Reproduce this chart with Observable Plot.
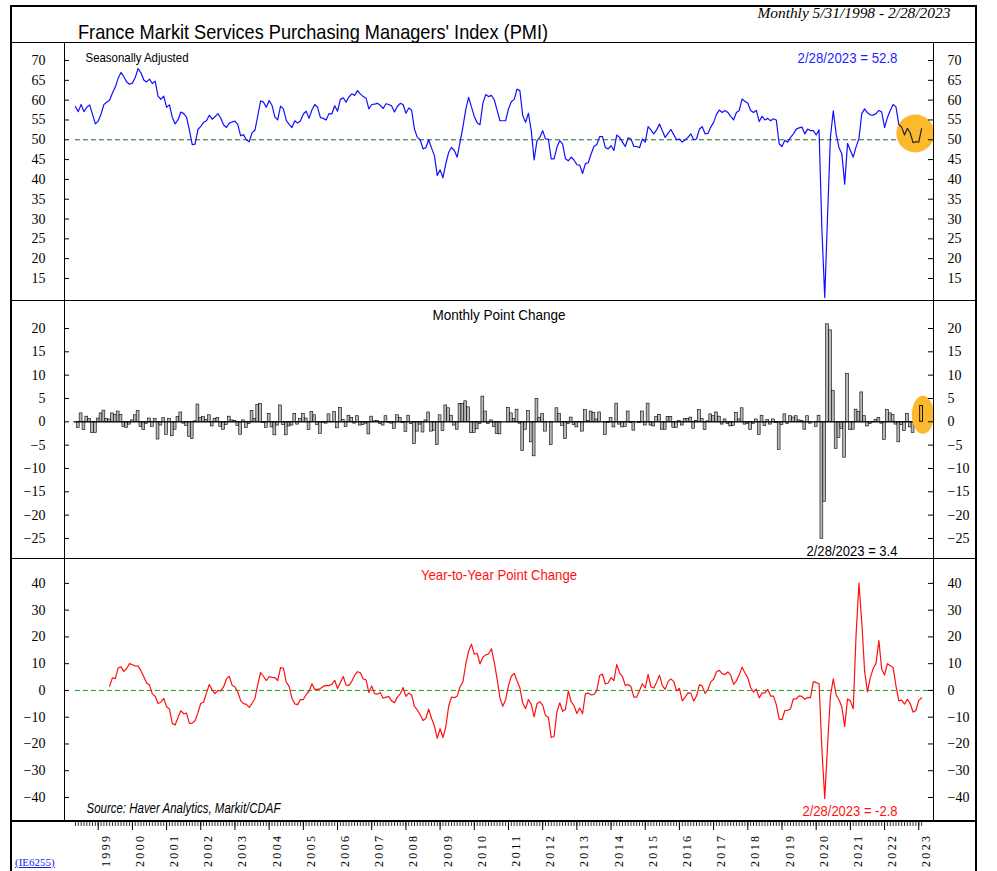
<!DOCTYPE html>
<html><head><meta charset="utf-8">
<script src="https://cdn.jsdelivr.net/npm/d3@7"></script>
<script src="https://cdn.jsdelivr.net/npm/@observablehq/plot@0.6"></script>
<style>
body{margin:0;background:#fff;}
#wrap{position:relative;width:997px;height:871px;overflow:hidden;font-family:"Liberation Sans Narrow","Liberation Sans",sans-serif;}
.hl{position:absolute;background:#000;}
.xaxis text{letter-spacing:2.4px;}
</style></head><body><div id="wrap"></div>
<script>
// ---- data ----
const startYear = 1998, startMonth = 5;   // first observation: May 1998
const pmi = [
58.4,57.1,58.9,57.1,58.2,58.8,56.4,54.0,54.7,56.5,58.9,59.5,
60.0,61.8,63.3,65.5,67.0,65.9,64.6,64.0,64.3,65.7,68.0,66.9,
65.1,64.6,65.3,64.2,64.8,61.0,60.2,61.0,58.2,58.8,55.7,54.0,
55.0,57.0,56.6,55.7,52.5,48.8,48.9,52.6,53.4,54.4,54.8,56.2,
55.2,55.8,56.6,55.5,53.8,53.1,54.2,54.5,54.7,53.8,51.0,51.3,
50.0,49.5,51.8,52.4,56.0,59.8,59.5,58.2,59.9,58.7,55.8,55.0,
58.5,57.8,54.9,53.9,53.1,54.8,54.2,54.8,56.5,57.2,55.4,57.5,
58.9,58.2,55.6,55.4,55.0,56.6,56.5,58.6,57.2,60.2,60.6,59.5,
60.8,61.6,61.2,62.4,61.6,60.9,60.5,57.8,58.9,59.0,59.2,58.7,
57.9,59.1,58.9,58.5,57.0,58.4,59.2,58.9,56.7,58.0,57.5,52.7,
50.6,50.0,47.7,48.0,50.0,47.9,46.0,41.0,42.4,40.4,43.9,46.8,
48.1,47.3,45.6,49.4,53.2,57.6,60.7,58.3,55.9,54.3,53.8,59.2,
61.4,60.9,61.2,60.1,57.5,54.8,54.8,54.8,57.8,59.6,60.2,62.8,
62.4,56.1,54.4,56.7,52.3,44.9,49.8,50.6,52.3,50.2,50.2,45.2,
45.2,48.1,49.8,48.9,45.2,44.7,45.6,44.9,43.7,43.6,41.5,44.0,
44.2,46.4,48.3,48.8,50.8,50.8,48.0,47.7,48.5,47.3,51.2,50.6,
49.4,48.3,50.5,50.2,48.3,48.3,48.0,50.2,49.4,53.3,52.5,51.5,
52.5,54.0,52.3,50.6,51.6,52.6,51.3,50.0,50.2,49.4,50.0,50.6,
51.5,50.0,50.2,52.7,53.3,51.5,51.6,53.2,54.4,56.4,57.5,56.9,
57.4,56.9,55.9,55.0,56.9,57.4,60.3,59.7,59.2,57.4,56.9,57.4,
54.6,55.9,55.0,55.4,54.8,55.3,55.0,49.0,48.3,49.9,49.4,50.6,
51.5,52.7,53.0,53.2,51.5,52.7,52.3,52.3,51.2,52.5,27.4,10.2,
31.1,50.7,57.3,51.5,48.0,46.5,38.8,49.1,47.3,45.6,48.2,50.3,
56.6,57.8,56.8,56.3,56.2,56.6,57.4,57.0,53.1,55.6,57.4,58.9,
58.3,53.9,53.2,51.2,52.9,51.7,49.3,49.5,49.4,52.8
];
const yTicksTop = [15,20,25,30,35,40,45,50,55,60,65,70];
const yTicksMid = [-25,-20,-15,-10,-5,0,5,10,15,20];
const yTicksBot = [-40,-30,-20,-10,0,10,20,30,40];
const yearLabels = [1999,2000,2001,2002,2003,2004,2005,2006,2007,2008,2009,2010,2011,2012,2013,2014,2015,2016,2017,2018,2019,2020,2021,2022,2023];
const lastLabels = ["2/28/2023 = 52.8", "2/28/2023 = 3.4", "2/28/2023 = -2.8"];
const highlightTop = [{t: 2022.90, v: 51.6}];
const highlightMid = [{t: 2023.12, v: 1.5}];

// ---- derived tables ----
const tOf = i => startYear + (startMonth - 1 + i) / 12;
const level = pmi.map((v, i) => ({t: tOf(i), v}));
const change = pmi.map((v, i) => i < 1 ? null : ({t: tOf(i), v: +(v - pmi[i-1]).toFixed(1)})).filter(d => d);
const yoy = pmi.map((v, i) => i < 12 ? null : ({t: tOf(i), v: +(v - pmi[i-12]).toFixed(1)})).filter(d => d);
const months = pmi.map((v, i) => tOf(i));

const wrap = document.getElementById("wrap");
const W = 965, ML = 54, MR = 42, FW = W - ML - MR;
const xdom = [1998.0143, 2023.431];
const sans = '"Liberation Sans Narrow","Liberation Sans",sans-serif';
const serif = '"Liberation Serif",serif';

function place(svg, top) {
  svg.style.position = "absolute"; svg.style.left = "10px"; svg.style.top = top + "px";
  wrap.appendChild(svg);
  return svg;
}
function axes(ticks) {
  return [
    Plot.axisY(ticks, {anchor: "left", label: null, tickSize: 0, tickPadding: 19, fontSize: 14, fontFamily: serif}),
    Plot.axisY(ticks, {anchor: "right", label: null, tickSize: 0, tickPadding: 14, textAnchor: "start", fontSize: 14, fontFamily: serif}),
    Plot.tickY(ticks, {y: d => d, insetRight: FW - 5, stroke: "#000"}),
    Plot.tickY(ticks, {y: d => d, insetLeft: FW - 5, stroke: "#000"}),
    Plot.frame({stroke: "#000"})
  ];
}
function fit(svg) {
  d3.select(svg).selectAll("g[class*='fit-'] text").each(function() {
    const g = this.closest("g[class*='fit-']");
    const w = +[...g.classList].find(c => c.startsWith("fit-")).slice(4);
    d3.select(this).attr("textLength", w).attr("lengthAdjust", "spacingAndGlyphs");
  });
}
function panel(top, height, ydomain, ticks, marks) {
  const svg = Plot.plot({
    width: W, height, marginLeft: ML, marginRight: MR, marginTop: 0, marginBottom: 0,
    x: {domain: xdom, axis: null},
    y: {domain: ydomain, axis: null},
    style: {fontFamily: sans, fontSize: "14px", overflow: "visible", background: "transparent"},
    marks: [...marks, ...axes(ticks)]
  });
  fit(svg);
  return place(svg, top);
}
const mid_ = {lineAnchor: "middle"};

// top panel
panel(42, 258, [9.44, 74.55], yTicksTop, [
  Plot.ruleY([50], {x1: tOf(0), x2: xdom[1], stroke: "#1f6a1f", strokeDasharray: "5,3", strokeWidth: 1}),
  Plot.lineY(level, {x: "t", y: "v", stroke: "#1010ff", strokeWidth: 1.2}),
  Plot.dot(highlightTop, {x: "t", y: "v", r: 19, fill: "#FDB92E", stroke: "none"}),
  Plot.lineY(level.slice(-9), {x: "t", y: "v", stroke: "#222", strokeWidth: 1.2}),
  Plot.text(["Seasonally Adjusted"], {...mid_, frameAnchor: "top-left", textAnchor: "start", dx: 21, dy: 15, fontSize: 13, fill: "#000", className: "fit-103"}),
  Plot.text([lastLabels[0]], {...mid_, frameAnchor: "top-right", textAnchor: "end", dx: -36, dy: 16, fontSize: 15, fill: "#1f1fff", className: "fit-100"})
]);

// middle panel
const mid = panel(300, 258, [-29.3, 26.0], yTicksMid, [
  Plot.rect(change, {x1: d => d.t - 1/24, x2: d => d.t + 1/24, y1: 0, y2: "v", fill: "#b8b8b8", stroke: "#000", strokeWidth: 0.6}),
  Plot.ruleY([0], {x1: tOf(0) - 1/24, x2: tOf(pmi.length - 1) + 1/24, stroke: "#000", strokeWidth: 1.2}),
  Plot.dot(highlightMid, {x: "t", y: "v", r: 19, fill: "#FDB92E", stroke: "none", className: "ellipse-hl"}),
  Plot.rect(change.slice(-1), {x1: d => d.t - 1/24, x2: d => d.t + 1/24, y1: 0, y2: "v", fill: "none", stroke: "#000", strokeWidth: 0.9}),
  Plot.text(["Monthly Point Change"], {...mid_, frameAnchor: "top", dy: 15, fontSize: 15, fill: "#000", className: "fit-133"}),
  Plot.text([lastLabels[1]], {...mid_, frameAnchor: "bottom-right", textAnchor: "end", dx: -36, dy: -7, fontSize: 15, fill: "#000", className: "fit-91"})
]);
d3.select(mid).selectAll(".ellipse-hl circle").each(function() {
  const c = d3.select(this), cx = +c.attr("cx"), cy = +c.attr("cy");
  c.attr("transform", `translate(${cx},${cy}) scale(0.58,1) translate(${-cx},${-cy})`);
});

// bottom panel
panel(558, 262, [-48.6, 49.3], yTicksBot, [
  Plot.ruleY([0], {x1: tOf(0), x2: xdom[1], stroke: "#1aa31a", strokeDasharray: "5,3", strokeWidth: 1}),
  Plot.lineY(yoy, {x: "t", y: "v", stroke: "#ff1010", strokeWidth: 1.2}),
  Plot.text(["Year-to-Year Point Change"], {...mid_, frameAnchor: "top", dy: 17, fontSize: 15, fill: "#ff1010", className: "fit-156"}),
  Plot.text(["Source: Haver Analytics, Markit/CDAF"], {...mid_, frameAnchor: "bottom-left", textAnchor: "start", dx: 22, dy: -12, fontSize: 14, fontStyle: "italic", fill: "#000", className: "fit-194"}),
  Plot.text([lastLabels[2]], {...mid_, frameAnchor: "bottom-right", textAnchor: "end", dx: -36, dy: -9, fontSize: 15, fill: "#ff1010", className: "fit-95"})
]);

// x axis
const xa = Plot.plot({
  width: W, height: 51, marginLeft: ML, marginRight: MR, marginTop: 0, marginBottom: 0,
  x: {domain: xdom, axis: null}, y: {domain: [0, 1], axis: null},
  className: "xaxis",
  style: {fontFamily: serif, overflow: "visible", background: "transparent"},
  marks: [
    Plot.tickX(months, {x: d => d, insetTop: 1, insetBottom: 51 - 6, stroke: "#000", strokeWidth: 0.8}),
    Plot.tickX(yearLabels, {x: d => d, insetTop: 1, insetBottom: 51 - 10, stroke: "#000", strokeWidth: 1}),
    Plot.text(yearLabels, {x: d => d, text: d => String(d), rotate: -90, textAnchor: "end", frameAnchor: "top", dy: 13, dx: 3, fontSize: 12, fill: "#000"})
  ]
});
place(xa, 820);

// frame decorations & titles
function hline(y, x1, x2, h) { const d = document.createElement("div"); d.className = "hl"; Object.assign(d.style, {left: x1 + "px", top: y + "px", width: (x2 - x1) + "px", height: (h || 1) + "px"}); wrap.appendChild(d); }
function vline(x, y1, y2, w) { const d = document.createElement("div"); d.className = "hl"; Object.assign(d.style, {left: x + "px", top: y1 + "px", width: (w || 1) + "px", height: (y2 - y1) + "px"}); wrap.appendChild(d); }
hline(5, 10, 976, 1.5);
hline(42, 10, 976, 1);
hline(300, 10, 976, 1);
hline(558, 10, 976, 1);
hline(820, 10, 976, 1.5);
vline(10, 5, 871, 1.5);
vline(975, 5, 871, 1.5);

function label(text, css, targetW, anchorRight) {
  const d = document.createElement("div"); d.textContent = text;
  d.style.position = "absolute"; d.style.whiteSpace = "nowrap";
  Object.assign(d.style, css); wrap.appendChild(d);
  if (targetW) {
    const w = d.getBoundingClientRect().width;
    d.style.transformOrigin = anchorRight ? "right center" : "left center";
    d.style.transform = `scaleX(${targetW / w})`;
  }
  return d;
}
label("France Markit Services Purchasing Managers' Index (PMI)", {left: "78px", top: "20px", fontSize: "21px", lineHeight: "24px", fontFamily: sans, color: "#000"}, 470);
label("Monthly 5/31/1998 - 2/28/2023", {right: "47px", top: "6px", fontSize: "14px", lineHeight: "16px", fontFamily: serif, fontStyle: "italic", color: "#000"}, 193, true);
label("(IE6255)", {left: "15px", top: "855px", fontSize: "11px", lineHeight: "14px", fontFamily: serif, color: "#1a1ae6", textDecoration: "underline"});
</script></body></html>
